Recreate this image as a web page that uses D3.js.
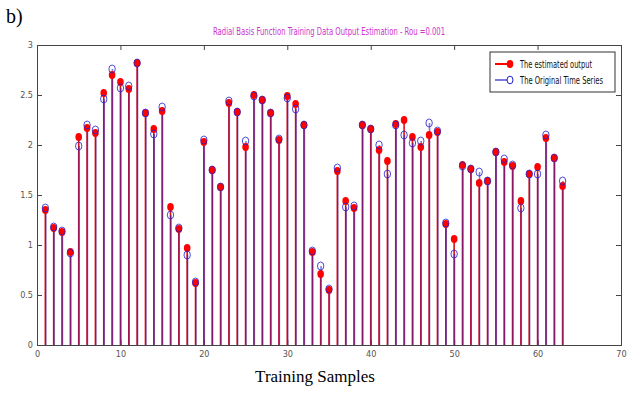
<!DOCTYPE html>
<html>
<head>
<meta charset="utf-8">
<script src="https://cdn.jsdelivr.net/npm/d3@7"></script>
<style>
  body { margin: 0; background: #fff; }
  .narrow { font-family: "DejaVu Sans Condensed", "Liberation Sans Narrow", sans-serif; font-stretch: condensed; }
</style>
</head>
<body>
<svg id="chart"></svg>
<script>
// sample numbers 1..63
var samples = d3.range(1, 64);

// estimated output (red)
var estimated = [1.35, 1.17, 1.13, 0.93, 2.08, 2.17, 2.12, 2.52, 2.70, 2.63,
  2.56, 2.82, 2.32, 2.16, 2.34, 1.38, 1.16, 0.97, 0.62, 2.03,
  1.75, 1.58, 2.42, 2.33, 1.98, 2.50, 2.45, 2.32, 2.05, 2.49,
  2.41, 2.20, 0.93, 0.71, 0.55, 1.74, 1.44, 1.37, 2.20, 2.16,
  1.95, 1.84, 2.21, 2.25, 2.08, 1.98, 2.10, 2.13, 1.21, 1.06,
  1.80, 1.76, 1.62, 1.64, 1.93, 1.83, 1.79, 1.44, 1.71, 1.78,
  2.07, 1.87, 1.59];

// original time series (blue)
var original = [1.37, 1.18, 1.14, 0.92, 1.99, 2.20, 2.15, 2.46, 2.76, 2.57,
  2.59, 2.82, 2.32, 2.11, 2.38, 1.30, 1.17, 0.90, 0.63, 2.05,
  1.75, 1.58, 2.44, 2.33, 2.04, 2.49, 2.45, 2.32, 2.06, 2.47,
  2.36, 2.20, 0.94, 0.79, 0.56, 1.77, 1.38, 1.39, 2.20, 2.16,
  2.00, 1.71, 2.20, 2.10, 2.02, 2.04, 2.22, 2.14, 1.22, 0.91,
  1.79, 1.76, 1.73, 1.64, 1.93, 1.86, 1.80, 1.37, 1.71, 1.71,
  2.10, 1.87, 1.64];

var xTicks = [0, 10, 20, 30, 40, 50, 60, 70];
var yTicks = [0, 0.5, 1, 1.5, 2, 2.5, 3];

var W = 629, H = 398;
var margin = { top: 45, right: 8, bottom: 53, left: 37 };
var innerW = W - margin.left - margin.right;
var innerH = H - margin.top - margin.bottom;

var svg = d3.select("#chart").attr("width", W).attr("height", H);

var g = svg.append("g")
  .attr("transform", "translate(" + margin.left + "," + margin.top + ")");

var x = d3.scaleLinear().domain([0, 70]).range([0, innerW]);
var y = d3.scaleLinear().domain([0, 3]).range([innerH, 0]);

// axes, ticks pointing inward like matlab
var axisColor = "#444";
g.append("g")
  .attr("class", "narrow")
  .attr("transform", "translate(0," + innerH + ")")
  .call(d3.axisBottom(x).tickValues(xTicks).tickSize(-5).tickPadding(6).tickFormat(d3.format("d")));
g.append("g")
  .call(d3.axisTop(x).tickValues(xTicks).tickSize(-5).tickFormat(""));
g.append("g")
  .attr("class", "narrow")
  .call(d3.axisLeft(y).tickValues(yTicks).tickSize(-5).tickPadding(4).tickFormat(d3.format("")));
g.append("g")
  .attr("transform", "translate(" + innerW + ",0)")
  .call(d3.axisRight(y).tickValues(yTicks).tickSize(-5).tickFormat(""));

g.selectAll(".domain").attr("stroke", axisColor);
g.selectAll(".tick line").attr("stroke", axisColor);
g.selectAll(".tick text").attr("fill", "#555").style("font-size", "9px");

// stems: red under, blue over, so they read as purple
g.selectAll(".stemRed")
  .data(samples)
  .enter()
  .append("line")
  .attr("x1", (d) => x(d))
  .attr("x2", (d) => x(d))
  .attr("y1", y(0))
  .attr("y2", (d, i) => y(estimated[i]))
  .attr("stroke", "#e01010")
  .attr("stroke-width", 1.6);

g.selectAll(".stemBlue")
  .data(samples)
  .enter()
  .append("line")
  .attr("x1", (d) => x(d) + 0.4)
  .attr("x2", (d) => x(d) + 0.4)
  .attr("y1", y(0))
  .attr("y2", (d, i) => y(original[i]))
  .attr("stroke", "#4020b0")
  .attr("stroke-opacity", 0.6)
  .attr("stroke-width", 1.6);

// markers
g.selectAll(".dotRed")
  .data(samples)
  .enter()
  .append("ellipse")
  .attr("cx", (d) => x(d))
  .attr("cy", (d, i) => y(estimated[i]))
  .attr("rx", 3.3)
  .attr("ry", 4)
  .attr("fill", "#ff0000");

g.selectAll(".dotBlue")
  .data(samples)
  .enter()
  .append("ellipse")
  .attr("cx", (d) => x(d))
  .attr("cy", (d, i) => y(original[i]))
  .attr("rx", 3.2)
  .attr("ry", 4)
  .attr("fill", "none")
  .attr("stroke", "#2020d0")
  .attr("stroke-opacity", 0.8)
  .attr("stroke-width", 1);

// legend
var legend = g.append("g").attr("transform", "translate(" + (490 - margin.left) + "," + (52 - margin.top) + ")");
legend.append("rect")
  .attr("width", 125)
  .attr("height", 40)
  .attr("fill", "#fff")
  .attr("stroke", "#333");
legend.append("line").attr("x1", 5).attr("x2", 20).attr("y1", 12).attr("y2", 12)
  .attr("stroke", "#ff0000").attr("stroke-width", 2);
legend.append("ellipse").attr("cx", 20).attr("cy", 12).attr("rx", 3.3).attr("ry", 4).attr("fill", "#ff0000");
legend.append("line").attr("x1", 5).attr("x2", 20).attr("y1", 28).attr("y2", 28)
  .attr("stroke", "#5050c8").attr("stroke-width", 1.5);
legend.append("ellipse").attr("cx", 20).attr("cy", 28).attr("rx", 3).attr("ry", 3.8)
  .attr("fill", "#fff").attr("stroke", "#2020d0");
legend.append("text").attr("class", "narrow").attr("x", 30).attr("y", 15.5)
  .style("font-size", "10px").attr("fill", "#111")
  .attr("textLength", 72).attr("lengthAdjust", "spacingAndGlyphs")
  .text("The estimated output");
legend.append("text").attr("class", "narrow").attr("x", 30).attr("y", 31.5)
  .style("font-size", "10px").attr("fill", "#111")
  .attr("textLength", 83).attr("lengthAdjust", "spacingAndGlyphs")
  .text("The Original Time Series");

// title
svg.append("text")
  .attr("class", "narrow")
  .attr("x", 329)
  .attr("y", 35)
  .attr("text-anchor", "middle")
  .style("font-size", "10px")
  .attr("fill", "#cc33cc")
  .attr("textLength", 232).attr("lengthAdjust", "spacingAndGlyphs")
  .text("Radial Basis Function Training Data Output Estimation - Rou =0.001");

// panel label
svg.append("text")
  .attr("x", 6)
  .attr("y", 23)
  .style("font-family", "Liberation Serif, Times New Roman, serif")
  .style("font-size", "20px")
  .attr("fill", "#000")
  .text("b)");

// x label
svg.append("text")
  .attr("x", 315)
  .attr("y", 382)
  .attr("text-anchor", "middle")
  .style("font-family", "Liberation Serif, Times New Roman, serif")
  .style("font-size", "17px")
  .attr("fill", "#000")
  .text("Training Samples");
</script>
</body>
</html>
